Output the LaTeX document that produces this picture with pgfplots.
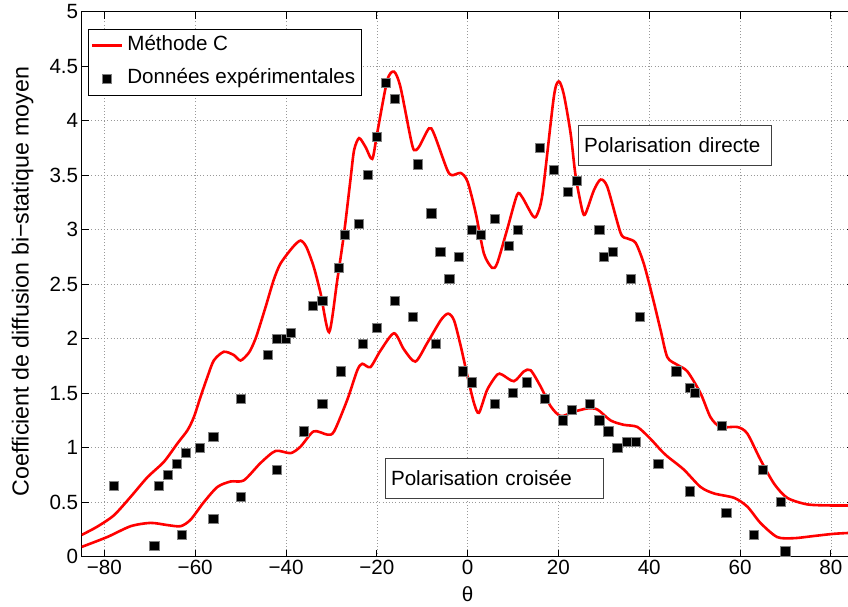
\documentclass[border=0pt]{standalone}
\usepackage{fontspec}
\setmainfont{Liberation Sans}
\usepackage{pgfplots}
\pgfplotsset{compat=1.18}
\newcommand{\f}{\fontsize{20.6bp}{24bp}\selectfont}
\newcommand{\fy}{\fontsize{23.2bp}{27bp}\selectfont}
\definecolor{mred}{RGB}{255,0,0}
\pgfplotsset{
  lineleg/.style={legend image code/.code={\draw[##1, line width=2.6bp] (0bp,0bp) -- (30bp,0bp);}},
  markleg/.style={legend image code/.code={\draw[mark repeat=2,mark phase=2,##1] plot coordinates {(0bp,0bp) (15bp,0bp) (30bp,0bp)};}},
}
\begin{document}
\begin{tikzpicture}
\begin{axis}[
  at={(0,0)}, anchor=south west,
  scale only axis, width=771.8bp, height=545bp,
  xmin=-85, xmax=85, ymin=0, ymax=5,
  xtick={-80,-60,-40,-20,0,20,40,60,80},
  xticklabels={−80,−60,−40,−20,0,20,40,60,80},
  ytick={0,0.5,1,1.5,2,2.5,3,3.5,4,4.5,5},
  yticklabels={0,0.5,1,1.5,2,2.5,3,3.5,4,4.5,5},
  tick label style={font=\f},
  tick align=inside,
  major tick length=7bp,
  tick style={black, line width=0.8bp},
  axis line style={black, line width=1bp},
  grid=major,
  major grid style={gray!80, line width=0.6bp, dash pattern=on 0.8bp off 2.4bp},
  xlabel={θ},
  xlabel style={font=\f, at={(axis description cs:0.5,-0.0831)}, anchor=base},
  ylabel={Coefficient de diffusion bi−statique moyen},
  ylabel style={font=\fy, at={(axis description cs:-0.0689,0.505)}, anchor=base},
  legend style={at={(axis description cs:0.0086,0.969)}, anchor=north west,
    draw=black, line width=0.8bp, fill=white, font=\f,
    inner xsep=2bp, inner ysep=0bp, row sep=0bp,
    nodes={text height=15bp, text depth=4bp, inner ysep=7bp, inner xsep=4bp}},
  legend cell align=left,
]
\addplot[mred, line width=2.6bp, smooth, tension=0.45, lineleg]
coordinates {
(-85,0.20) (-81.6,0.275) (-77.9,0.38) (-74.2,0.55) (-70.5,0.73) (-66.9,0.87)
(-63.9,1.04) (-61.7,1.16) (-60.3,1.28) (-58.8,1.47) (-57.3,1.65) (-55.9,1.80)
(-53.7,1.88) (-51.5,1.85) (-50,1.80) (-48.2,1.87) (-47.1,1.96) (-46.3,2.05)
(-44.5,2.29) (-42.7,2.54) (-41.2,2.69) (-38.5,2.84) (-36.8,2.90) (-35.5,2.84)
(-33.9,2.66) (-32.4,2.42) (-30.5,2.06) (-28.7,2.54) (-27.2,2.97) (-25.8,3.46)
(-25,3.73) (-23.9,3.84) (-22.5,3.76) (-21,3.65) (-19.9,3.89) (-17.7,4.37)
(-16.2,4.45) (-14.8,4.31) (-12.6,3.85) (-11.8,3.73) (-10.7,3.76) (-8.5,3.93)
(-7.4,3.88) (-4.5,3.55) (-3.4,3.50) (-1.5,3.52) (0,3.44) (1.8,3.15) (3.6,2.78)
(5.4,2.65) (6.5,2.69) (8.7,3.0) (10.9,3.32) (12,3.30) (14.3,3.13) (15.2,3.13)
(16.5,3.33) (19,4.22) (20.1,4.36) (21.2,4.24) (22.7,3.88) (23.8,3.49) (25.3,3.17)
(26,3.15) (27.8,3.36) (29.3,3.46) (30.8,3.39) (33.7,2.97) (35.2,2.92) (37,2.88)
(38.8,2.69) (40.7,2.39) (42.5,2.08) (44,1.83) (46.2,1.76) (48.4,1.70) (51.3,1.50)
(53.5,1.28) (55.7,1.19) (59.4,1.19) (61.6,1.13) (64.5,0.89) (67.5,0.67)
(70.4,0.54) (74.8,0.48) (80,0.47) (85,0.47)
};
\addlegendentry{Méthode C}
\addplot[only marks, mark=square*, mark size=4.6bp,
  mark options={fill=black, draw=gray, line width=0.7bp}, markleg]
coordinates {
(-78,0.65) (-69,0.10) (-68,0.65) (-66,0.75) (-64,0.85) (-62,0.95) (-63,0.20)
(-59,1.0) (-56,1.10) (-56,0.35) (-50,1.45) (-50,0.55) (-44,1.85) (-42,2.0)
(-40,2.0) (-39,2.05) (-42,0.80) (-36,1.15) (-34,2.30) (-32,2.35) (-32,1.40)
(-28,1.70) (-28.4,2.65) (-27,2.95) (-24,3.05) (-22,3.50) (-20,3.85) (-23,1.95)
(-20,2.10) (-18,4.35) (-16,4.20) (-16,2.35) (-12,2.20) (-11,3.60) (-8,3.15)
(-7,1.95) (-6,2.80) (-4,2.55) (-2,2.75) (-1,1.70) (1,3.0) (1,1.60) (3,2.95)
(6,3.10) (6,1.40) (9,2.85) (10,1.50) (11,3.0) (13,1.60) (16,3.75) (17,1.45)
(19,3.55) (21,1.25) (22,3.35) (23,1.35) (24,3.45) (27,1.40) (29,3.0) (29,1.25)
(30,2.75) (31,1.15) (32,2.80) (33,1.0) (35,1.05) (36,2.55) (37,1.05) (38,2.20)
(42,0.85) (46,1.70) (49,1.55) (50,1.50) (49,0.60) (56,1.20) (57,0.40) (63,0.20)
(65,0.80) (69,0.50) (70,0.05)
};
\addlegendentry{Données expérimentales}
\addplot[mred, line width=2.6bp, smooth, tension=0.45, forget plot]
coordinates {
(-85,0.09) (-79.4,0.18) (-74.2,0.28) (-69.8,0.31) (-66.1,0.29) (-63.2,0.28)
(-61,0.34) (-58.1,0.50) (-55.1,0.64) (-52.2,0.69) (-49.3,0.70) (-45.6,0.86)
(-42.3,0.97) (-39,0.95) (-36.8,1.01) (-33.9,1.15) (-30.9,1.12) (-29.4,1.15)
(-26.5,1.44) (-24.3,1.71) (-23.2,1.77) (-21.4,1.74) (-19.2,1.89) (-16.2,2.05)
(-14,1.90) (-11.5,1.79) (-8.9,1.96) (-5.9,2.17) (-4.3,2.23) (-3,2.17)
(-1.5,1.93) (0,1.65) (1.4,1.41) (2.5,1.32) (4.3,1.53) (6.5,1.67) (7.6,1.67)
(10.2,1.61) (12.4,1.70) (13.9,1.71) (16.1,1.56) (18.3,1.38) (20.5,1.29)
(23.4,1.33) (26.4,1.36) (28.6,1.35) (31.5,1.25) (34.4,1.21) (37.4,1.19)
(40.3,1.08) (42.5,0.98) (44,0.92) (47.6,0.80) (51.3,0.64) (54.3,0.58)
(58.7,0.54) (61.6,0.46) (64.5,0.31) (68.2,0.18) (71.9,0.17) (76.3,0.19)
(80.7,0.21) (85,0.22)
};
\node[draw=black!75, line width=0.8bp, fill=white, anchor=west, font=\f,
  minimum height=40bp, text width=182bp, inner xsep=5.7bp, align=left]
  at (axis cs:24.3,3.775) {Polarisation directe};
\node[draw=black!75, line width=0.8bp, fill=white, anchor=west, font=\f,
  minimum height=40bp, text width=206.7bp, inner xsep=6bp, align=left]
  at (axis cs:-18.28,0.719) {Polarisation croisée};
\end{axis}
\pgfresetboundingbox
\useasboundingbox (-81.7bp,-50.3bp) rectangle (766.3bp,556.7bp);
\end{tikzpicture}
\end{document}
